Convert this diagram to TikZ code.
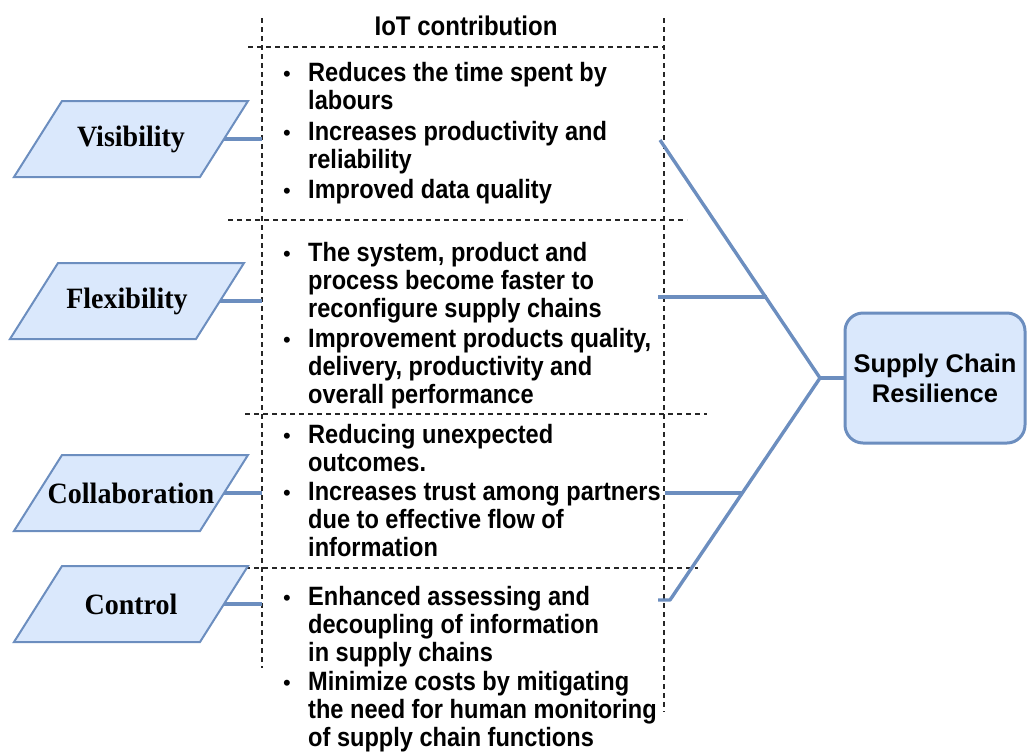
\documentclass[tikz,border=0pt]{standalone}
\usepackage{fontspec}
\setmainfont{Liberation Sans}
\newfontfamily\serifbf{Liberation Serif}[FakeStretch=0.95]
\newfontfamily\itemfont{Liberation Sans}[FakeStretch=0.89]
\definecolor{fillb}{HTML}{DAE8FC}
\definecolor{lineb}{HTML}{6C8EBF}
\newcommand\paragram[4]{%
  \draw[para] ({#1-69},{#2-38}) -- ({#1+117},{#2-38}) -- ({#1+69},{#2+38}) -- ({#1-117},{#2+38}) -- cycle;
  \node[plabel] (#3) at (#1,#2) {#4};
  \coordinate (#3-r) at ({#1+93},#2);
  \coordinate (#3-l) at (262,#2);
}
\newcommand\bulletitem[3]{%
  \node[bul] (#1-b) at (287,{#2}) {•};
  \node[itemtxt] (#1) at (308,{#2-19.6}) {\strut #3};
}
\begin{document}
\begin{tikzpicture}[x=1pt,y=-1pt,
  para/.style={draw=lineb, fill=fillb, line width=2},
  plabel/.style={font=\serifbf\bfseries\fontsize{29.5}{32}\selectfont, inner sep=0},
  conn/.style={draw=lineb, line width=3.4, line join=round},
  dsh/.style={draw=black!85, line width=1.6, dash pattern=on 5 off 4},
  itemtxt/.style={anchor=north west, inner sep=0, align=left, font=\itemfont\bfseries\fontsize{26.5}{28}\selectfont},
  bul/.style={anchor=base, inner sep=0, font=\fontsize{22}{22}\selectfont},
  resbox/.style={draw=lineb, fill=fillb, line width=3, rounded corners=18, minimum width=180, minimum height=130, align=center, font=\bfseries\fontsize{25.5}{30}\selectfont},
]
\useasboundingbox (0,0) rectangle (1027,753);

% dashed frame
\draw[dsh] (262,18) -- (262,668);
\draw[dsh] (664,18) -- (664,712);
\draw[dsh] (248,47) -- (664,47);
\draw[dsh] (228,220) -- (687,220);
\draw[dsh] (245,414) -- (707,414);
\draw[dsh] (245,568) -- (698,568);

\node[anchor=base, font=\itemfont\bfseries\fontsize{27}{30}\selectfont] (title) at (466,35) {IoT contribution};

% parallelograms
\paragram{131}{139}{vis}{Visibility}
\paragram{127}{301}{flex}{Flexibility}
\paragram{131}{493}{coll}{Collaboration}
\paragram{131}{604}{ctrl}{Control}

\draw[conn] (vis-r) -- (vis-l);
\draw[conn] (flex-r) -- (flex-l);
\draw[conn] (coll-r) -- (coll-l);
\draw[conn] (ctrl-r) -- (ctrl-l);

% bullet texts
\bulletitem{v1}{81}{Reduces the time spent by\\labours}
\bulletitem{v2}{140}{Increases productivity and\\reliability}
\bulletitem{v3}{198}{Improved data quality}
\bulletitem{f1}{261}{The system, product and\\process become faster to\\reconfigure supply chains}
\bulletitem{f2}{347}{Improvement products quality,\\delivery, productivity and\\overall performance}
\bulletitem{c1}{443}{Reducing unexpected\\outcomes.}
\bulletitem{c2}{500}{Increases trust among partners\\due to effective flow of\\information}
\bulletitem{k1}{605}{Enhanced assessing and\\decoupling of information\\in supply chains}
\bulletitem{k2}{690}{Minimize costs by mitigating\\the need for human monitoring\\of supply chain functions}

% result box
\node[resbox] (scr) at (935,378) {Supply Chain\\Resilience};

% right connectors
\coordinate (vR) at (660,140);
\coordinate (fR) at (658,297);
\coordinate (fJ) at (767,297);
\coordinate (cR) at (665,493);
\coordinate (cJ) at (742,493);
\coordinate (kR) at (658,600);
\coordinate (kB) at (670,600);
\coordinate (J) at (820,378);
\draw[conn] (vR) -- (J) -- (kB) -- (kR);
\draw[conn] (fR) -- (fJ);
\draw[conn] (cR) -- (cJ);
\draw[conn] (J) -- (scr.west);
\end{tikzpicture}
\end{document}
